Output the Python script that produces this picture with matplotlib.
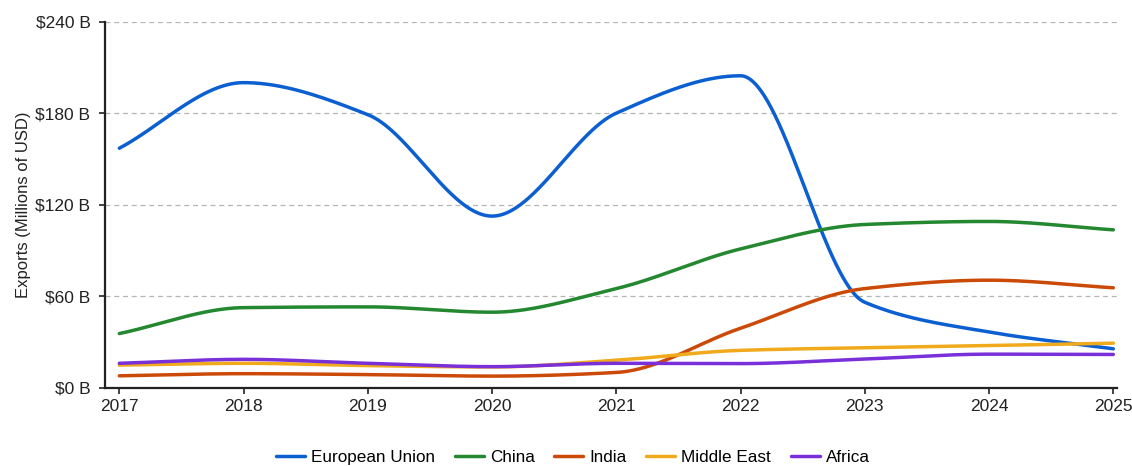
import numpy as np
import matplotlib.pyplot as plt

plt.rcParams['font.family'] = ['Liberation Sans', 'DejaVu Sans']

years = [2017, 2018, 2019, 2020, 2021, 2022, 2023, 2024, 2025]
eu = [157, 200, 179, 112.5, 180, 204.5, 56, 36.5, 25.5]
china = [35.5, 52.5, 53, 49.5, 65, 91, 107, 109, 103.5]
india = [7.8, 9.2, 8.6, 7.6, 10, 39, 65, 70.5, 65.5]
middle_east = [14.8, 16, 14.5, 13.6, 18, 24.5, 26.2, 27.6, 29.2]
africa = [16, 18.6, 16, 13.8, 16, 15.8, 18.8, 22, 21.8]

names = ['European Union', 'China', 'India', 'Middle East', 'Africa']
colors = ['#0b5fd0', '#23882f', '#cc4a08', '#f0aa1c', '#7a30d8']
ticks_y = [0, 60, 120, 180, 240]


def pchip(x, y, xs):
    # monotone cubic (Fritsch-Carlson) so the curves pass through every point
    x = np.asarray(x, float)
    y = np.asarray(y, float)
    h = np.diff(x)
    d = np.diff(y) / h
    m = np.zeros_like(y)
    for k in range(1, len(x) - 1):
        if d[k - 1] * d[k] > 0:
            w1 = 2 * h[k] + h[k - 1]
            w2 = h[k] + 2 * h[k - 1]
            m[k] = (w1 + w2) / (w1 / d[k - 1] + w2 / d[k])
    m[0] = d[0]
    m[-1] = d[-1]
    idx = np.clip(np.searchsorted(x, xs) - 1, 0, len(x) - 2)
    t = (xs - x[idx]) / h[idx]
    h00 = 2 * t**3 - 3 * t**2 + 1
    h10 = t**3 - 2 * t**2 + t
    h01 = -2 * t**3 + 3 * t**2
    h11 = t**3 - t**2
    return (h00 * y[idx] + h10 * h[idx] * m[idx]
            + h01 * y[idx + 1] + h11 * h[idx] * m[idx + 1])


fig = plt.figure(figsize=(11.32, 4.66), dpi=100)
ax = fig.add_axes([0.0928, 0.168, 0.894, 0.7856])

xs = np.linspace(years[0], years[-1], 800)
for name, vals, c in zip(names, [eu, china, india, middle_east, africa], colors):
    ax.plot(xs, pchip(years, vals, xs), color=c, lw=2.5, label=name,
            solid_capstyle='round')

ax.set_xlim(2016.885, 2025.03)
ax.set_ylim(0, 240)
ax.set_xticks(years)
ax.set_yticks(ticks_y)
ax.set_yticklabels(['$%d B' % v for v in ticks_y])
ax.tick_params(labelsize=12.5, length=4.5, width=1.2, colors='#222222')
ax.tick_params(axis='y', pad=6)
ax.grid(axis='y', linestyle=(0, (4, 3)), color='#b5b5b5', lw=0.9)
ax.set_axisbelow(True)
for s in ['top', 'right']:
    ax.spines[s].set_visible(False)
for s in ['left', 'bottom']:
    ax.spines[s].set_linewidth(1.6)
    ax.spines[s].set_color('#222222')
ax.set_ylabel('Exports (Millions of USD)', fontsize=12, color='#222222', labelpad=3)

ax.legend(loc='center', bbox_to_anchor=(0.506, 0.018), bbox_transform=fig.transFigure,
          ncol=5, frameon=False, fontsize=12.3, handlelength=1.7, handletextpad=0.35,
          columnspacing=1.15)

fig.savefig('out.png', dpi=100)
